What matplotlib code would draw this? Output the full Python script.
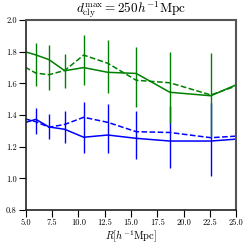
import numpy as np
import matplotlib
matplotlib.use("Agg")
import matplotlib.pyplot as plt

plt.rcParams['font.family'] = 'serif'
plt.rcParams['font.serif'] = ['cmr10', 'DejaVu Serif']
plt.rcParams['mathtext.fontset'] = 'cm'
plt.rcParams['axes.formatter.use_mathtext'] = True

#%% data
R = [4.92, 5.95, 7.2, 8.7, 10.5, 12.8, 15.5, 18.7, 22.6, 27.4]

green_solid = [1.80, 1.78, 1.75, 1.68, 1.70, 1.67, 1.663, 1.544, 1.522, 1.66]
green_dash = [1.703, 1.665, 1.655, 1.682, 1.779, 1.727, 1.62, 1.604, 1.527, 1.64]
blue_solid = [1.353, 1.373, 1.325, 1.31, 1.26, 1.274, 1.253, 1.236, 1.236, 1.26]
blue_dash = [1.376, 1.358, 1.323, 1.341, 1.386, 1.354, 1.295, 1.29, 1.257, 1.277]

# error bars (interior bins only)
R_err = R[1:-1]
green_mid = [1.719, 1.698, 1.678, 1.746, 1.705, 1.64, 1.574, 1.525]
green_err = [0.136, 0.142, 0.106, 0.159, 0.168, 0.19, 0.226, 0.265]
blue_mid = [1.36, 1.327, 1.324, 1.323, 1.316, 1.274, 1.263, 1.247]
blue_err = [0.082, 0.08, 0.103, 0.161, 0.154, 0.154, 0.196, 0.23]

#%% plot
fig = plt.figure(figsize=(2.49, 2.48), dpi=100)
ax = fig.add_axes([0.104, 0.153, 0.844, 0.766])

ax.plot(R, blue_solid, color='blue', lw=1.1)
ax.plot(R, blue_dash, color='blue', lw=1.1, ls='--')
ax.errorbar(R_err, blue_mid, yerr=blue_err, fmt='none', ecolor='blue', elinewidth=1.0)

ax.plot(R, green_solid, color='green', lw=1.1)
ax.plot(R, green_dash, color='green', lw=1.1, ls='--')
ax.errorbar(R_err, green_mid, yerr=green_err, fmt='none', ecolor='green', elinewidth=1.0)

ax.set_xlim(5.0, 25.0)
ax.set_ylim(0.8, 2.0)
ax.set_xticks(np.arange(5.0, 25.1, 2.5))
ax.set_yticks(np.arange(0.8, 2.01, 0.2))
ax.set_xticklabels([f"{v:.1f}" for v in np.arange(5.0, 25.1, 2.5)])
ax.set_yticklabels([f"{v:.1f}" for v in np.arange(0.8, 2.01, 0.2)])
ax.tick_params(direction='out', length=5, width=0.8, labelsize=6, pad=1.5,
               top=False, right=False)

for s in ['left', 'bottom']:
    ax.spines[s].set_color('#222222')
    ax.spines[s].set_linewidth(1.2)
for s in ['top', 'right']:
    ax.spines[s].set_color('#555555')
    ax.spines[s].set_linewidth(1.5)

ax.set_title(r'$d_{\rm cly}^{\rm max}=250h^{-1}{\rm Mpc}$', fontsize=9.5, pad=2)
ax.set_xlabel(r'$R[h^{-1}{\rm Mpc}]$', fontsize=7.5, labelpad=1)

fig.savefig("out.png", dpi=100)
